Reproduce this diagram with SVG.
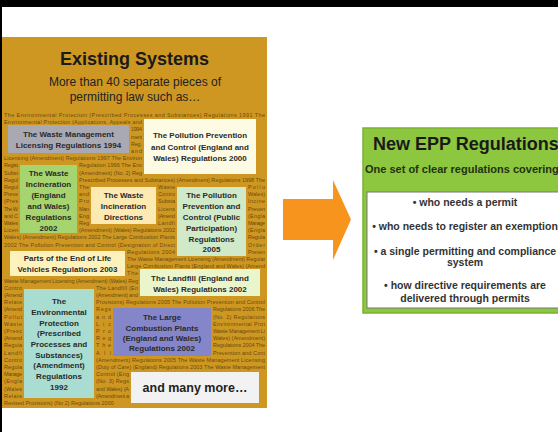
<svg xmlns="http://www.w3.org/2000/svg" width="558" height="432" viewBox="0 0 558 432">
<style>
.f{font-family:"Liberation Sans",Arial,sans-serif}
.fl{font-family:"Liberation Sans",Arial,sans-serif;font-size:5.5px;fill:#4a3005;fill-opacity:0.78}
.bx{font-family:"Liberation Sans",Arial,sans-serif;font-size:8px;font-weight:bold;fill:#2a2a2a;text-anchor:middle}
.bl{font-family:"Liberation Sans",Arial,sans-serif;font-size:10.5px;font-weight:bold;fill:#333;text-anchor:middle}
</style>
<rect x="0" y="0" width="558" height="432" fill="#fff"/>
<rect x="0" y="0" width="558" height="7" fill="#000"/>
<rect x="0" y="0" width="2" height="432" fill="#000"/>

<g id="existing-systems">
<rect x="2" y="37" width="265" height="371" fill="#CD9722"/>
<text class="f" x="134.5" y="65" text-anchor="middle" font-size="18" font-weight="bold" fill="#1a1a1a">Existing Systems</text>
<text class="f" x="135" y="86" text-anchor="middle" font-size="12" fill="#222">More than 40 separate pieces of</text>
<text class="f" x="135" y="101" text-anchor="middle" font-size="12" fill="#222">permitting law such as…</text>
<g id="background-list">
<text class="fl" x="4" y="117" textLength="261">The Environmental Protection (Prescribed Processes and Substances) Regulations 1991 The</text>
<text class="fl" x="4" y="124.2" textLength="138">Environmental Protection (Applications, Appeals and</text>
<text class="fl" x="131" y="131.4" textLength="11">1994</text>
<text class="fl" x="131" y="138.6" textLength="11">ment</text>
<text class="fl" x="131" y="145.8" textLength="11">Reg.</text>
<text class="fl" x="131" y="153" textLength="11">and</text>
<text class="fl" x="4" y="160.2" textLength="138">Licensing (Amendment) Regulations 1997 The Environ</text>
<text class="fl" x="4" y="167.4" textLength="14">Regist</text>
<text class="fl" x="79" y="167.4" textLength="63">Regulation 1996 The Env</text>
<text class="fl" x="4" y="174.6" textLength="14">Subst</text>
<text class="fl" x="79" y="174.6" textLength="63">(Amendment) (No. 2) Reg</text>
<text class="fl" x="4" y="181.8" textLength="14">Regul</text>
<text class="fl" x="79" y="181.8" textLength="186">Prescribed Processes and Substances) (Amendment) Regulations 1998 The</text>
<text class="fl" x="4" y="189" textLength="14">Regul</text>
<text class="fl" x="79" y="189" textLength="10">The</text>
<text class="fl" x="158" y="189" textLength="17">Waste</text>
<text class="fl" x="248" y="189" textLength="17">Pollu</text>
<text class="fl" x="4" y="196.2" textLength="14">Preve</text>
<text class="fl" x="79" y="196.2" textLength="10">and</text>
<text class="fl" x="158" y="196.2" textLength="17">Contro</text>
<text class="fl" x="248" y="196.2" textLength="17">Wales)</text>
<text class="fl" x="4" y="203.4" textLength="14">(Pres</text>
<text class="fl" x="79" y="203.4" textLength="10">Pro</text>
<text class="fl" x="158" y="203.4" textLength="17">Substa</text>
<text class="fl" x="248" y="203.4" textLength="17">Incine</text>
<text class="fl" x="4" y="210.6" textLength="14">The W</text>
<text class="fl" x="79" y="210.6" textLength="10">Man</text>
<text class="fl" x="158" y="210.6" textLength="17">Licens</text>
<text class="fl" x="248" y="210.6" textLength="17">Preven</text>
<text class="fl" x="4" y="217.8" textLength="14">and C</text>
<text class="fl" x="79" y="217.8" textLength="10">Eng</text>
<text class="fl" x="158" y="217.8" textLength="17">(Amend</text>
<text class="fl" x="248" y="217.8" textLength="17">(Engla</text>
<text class="fl" x="4" y="225" textLength="14">Wales</text>
<text class="fl" x="79" y="225" textLength="10">Reg</text>
<text class="fl" x="158" y="225" textLength="17">Landfi</text>
<text class="fl" x="248" y="225" textLength="17">Manage</text>
<text class="fl" x="4" y="232.2" textLength="14">Licen</text>
<text class="fl" x="79" y="232.2" textLength="96">(Amendment) (Wales) Regulations 2002</text>
<text class="fl" x="248" y="232.2" textLength="17">(Engla</text>
<text class="fl" x="4" y="239.4" textLength="171">Wales) (Amendment) Regulations 2002 The Large Combustion Plants</text>
<text class="fl" x="248" y="239.4" textLength="17">Regula</text>
<text class="fl" x="4" y="246.6" textLength="171">2002 The Pollution Prevention and Control (Designation of Direct</text>
<text class="fl" x="248" y="246.6" textLength="17">Order</text>
<text class="fl" x="127" y="253.8" textLength="48">Regulations 2004</text>
<text class="fl" x="248" y="253.8" textLength="17">Preven</text>
<text class="fl" x="127" y="261" textLength="138">The Waste Management Licensing (Amendment) Regulat</text>
<text class="fl" x="127" y="268.2" textLength="138">Large Combustion Plants (England and Wales) (Amend</text>
<text class="fl" x="127" y="275.4" textLength="11">The</text>
<text class="fl" x="4" y="282.6" textLength="134">Waste Management Licensing (Amendment) (Wales) Reg</text>
<text class="fl" x="4" y="289.8" textLength="18">Contro</text>
<text class="fl" x="96" y="289.8" textLength="42">The Landfill (En</text>
<text class="fl" x="4" y="297" textLength="18">(Amend</text>
<text class="fl" x="96" y="297" textLength="42">(Amendment) and</text>
<text class="fl" x="4" y="304.2" textLength="18">Relate</text>
<text class="fl" x="96" y="304.2" textLength="169">Provisions) Regulations 2005 The Pollution Prevention and Control</text>
<text class="fl" x="4" y="311.4" textLength="18">(Amend</text>
<text class="fl" x="96" y="311.4" textLength="15">Regs</text>
<text class="fl" x="213" y="311.4" textLength="52">Regulations 2006 The</text>
<text class="fl" x="4" y="318.6" textLength="18">Pollut</text>
<text class="fl" x="96" y="318.6" textLength="15">and</text>
<text class="fl" x="213" y="318.6" textLength="52">(No. 2) Regulations</text>
<text class="fl" x="4" y="325.8" textLength="18">Waste</text>
<text class="fl" x="96" y="325.8" textLength="15">Lic</text>
<text class="fl" x="213" y="325.8" textLength="52">Environmental Prot</text>
<text class="fl" x="4" y="333" textLength="18">(Presc</text>
<text class="fl" x="96" y="333" textLength="15">Pro</text>
<text class="fl" x="213" y="333" textLength="52">Waste Management Li</text>
<text class="fl" x="4" y="340.2" textLength="18">(Amend</text>
<text class="fl" x="96" y="340.2" textLength="15">Reg</text>
<text class="fl" x="213" y="340.2" textLength="52">Wales) (Amendment)</text>
<text class="fl" x="4" y="347.4" textLength="18">Regula</text>
<text class="fl" x="96" y="347.4" textLength="15">The</text>
<text class="fl" x="213" y="347.4" textLength="52">Regulations 2004 The</text>
<text class="fl" x="4" y="354.6" textLength="18">Landfi</text>
<text class="fl" x="96" y="354.6" textLength="15">All</text>
<text class="fl" x="213" y="354.6" textLength="52">Prevention and Cont</text>
<text class="fl" x="4" y="361.8" textLength="18">Contro</text>
<text class="fl" x="96" y="361.8" textLength="169">(Amendment) Regulations 2005 The Waste Management Licensing</text>
<text class="fl" x="4" y="369" textLength="18">Regula</text>
<text class="fl" x="96" y="369" textLength="169">(Duty of Care) (England) Regulations 2003 The Waste Management</text>
<text class="fl" x="4" y="376.2" textLength="18">Manage</text>
<text class="fl" x="96" y="376.2" textLength="33">Control (Eng</text>
<text class="fl" x="4" y="383.4" textLength="18">(Engla</text>
<text class="fl" x="96" y="383.4" textLength="33">(No. 3) Regs</text>
<text class="fl" x="4" y="390.6" textLength="18">(Wales</text>
<text class="fl" x="96" y="390.6" textLength="33">and Wales) (A</text>
<text class="fl" x="4" y="397.8" textLength="18">Relate</text>
<text class="fl" x="96" y="397.8" textLength="33">(Amendment a</text>
<text class="fl" x="4" y="405">Revised Provisions) (No 2) Regulations 2000</text>
</g>
</g>

<g id="waste-management-licensing">
<rect x="8" y="125" width="121" height="28" fill="#A9A9B3"/>
<text class="bx" x="68.5" y="137">The Waste Management</text>
<text class="bx" x="68.5" y="147.5">Licensing Regulations 1994</text>
</g>

<g id="ppc-regulations-2000">
<rect x="144" y="119" width="112" height="55" fill="#FDFBE3"/>
<text class="bx" x="200" y="138">The Pollution Prevention</text>
<text class="bx" x="200" y="149.5">and Control (England and</text>
<text class="bx" x="200" y="161">Wales) Regulations 2000</text>
</g>

<g id="waste-incineration-2002">
<rect x="20" y="165" width="57" height="68" fill="#A6D46E"/>
<text class="bx" x="48.5" y="176">The Waste</text>
<text class="bx" x="48.5" y="187">Incineration</text>
<text class="bx" x="48.5" y="198">(England</text>
<text class="bx" x="48.5" y="209">and Wales)</text>
<text class="bx" x="48.5" y="220">Regulations</text>
<text class="bx" x="48.5" y="230.5">2002</text>
</g>

<g id="waste-incineration-directions">
<rect x="91" y="187" width="65" height="37" fill="#FDE9B2"/>
<text class="bx" x="123.5" y="198">The Waste</text>
<text class="bx" x="123.5" y="209">Incineration</text>
<text class="bx" x="123.5" y="220">Directions</text>
</g>

<g id="ppc-public-participation-2005">
<rect x="177" y="187" width="69" height="69" fill="#CFE9C9"/>
<text class="bx" x="211.5" y="198">The Pollution</text>
<text class="bx" x="211.5" y="209">Prevention and</text>
<text class="bx" x="211.5" y="220">Control (Public</text>
<text class="bx" x="211.5" y="231">Participation)</text>
<text class="bx" x="211.5" y="241.5">Regulations</text>
<text class="bx" x="211.5" y="252">2005</text>
</g>

<g id="end-of-life-vehicles-2003">
<rect x="10" y="251" width="115" height="25" fill="#FDF2BC"/>
<text class="bx" x="67.5" y="261">Parts of the End of Life</text>
<text class="bx" x="67.5" y="272">Vehicles Regulations 2003</text>
</g>

<g id="landfill-2002">
<rect x="140" y="269" width="120" height="27" fill="#EBF5CB"/>
<text class="bx" x="200" y="281">The Landfill (England and</text>
<text class="bx" x="200" y="291.5">Wales) Regulations 2002</text>
</g>

<g id="environmental-protection-1992">
<rect x="24" y="289" width="70" height="109" fill="#A9DDD2"/>
<text class="bx" x="59" y="304">The</text>
<text class="bx" x="59" y="315">Environmental</text>
<text class="bx" x="59" y="325.5">Protection</text>
<text class="bx" x="59" y="336">(Prescribed</text>
<text class="bx" x="59" y="346.5">Processes and</text>
<text class="bx" x="59" y="357.5">Substances)</text>
<text class="bx" x="59" y="368">(Amendment)</text>
<text class="bx" x="59" y="379">Regulations</text>
<text class="bx" x="59" y="390">1992</text>
</g>

<g id="large-combustion-plants-2002">
<rect x="113" y="308" width="98" height="48" fill="#8585C9"/>
<text class="bx" x="162" y="320">The Large</text>
<text class="bx" x="162" y="330.5">Combustion Plants</text>
<text class="bx" x="162" y="341">(England and Wales)</text>
<text class="bx" x="162" y="351">Regulations 2002</text>
</g>

<g id="many-more">
<rect x="131" y="372" width="128" height="31" fill="#F2F2F2"/>
<text class="f" x="195" y="392" text-anchor="middle" font-size="12.5" font-weight="bold" fill="#222">and many more…</text>
</g>

<g id="connectors">
<polygon points="283,199 333,199 333,180 351,219.5 333,260 333,240 283,240" fill="#F7941D"/>
</g>

<g id="new-epp-regulations">
<rect x="363" y="128" width="210" height="185" fill="#8DC63F" stroke="#7AB232" stroke-width="1.5"/>
<text class="f" x="373" y="149.5" font-size="18" font-weight="bold" fill="#1a1a1a">New EPP Regulations</text>
<text class="f" x="365" y="173" font-size="11" font-weight="bold" fill="#1f3310">One set of clear regulations covering</text>
<rect x="367" y="192" width="196" height="116" fill="#fff" stroke="#777" stroke-width="1"/>
<text class="bl" x="465" y="205.5">• who needs a permit</text>
<text class="bl" x="465" y="229.5">• who needs to register an exemption</text>
<text class="bl" x="465" y="255">• a single permitting and compliance</text>
<text class="bl" x="465" y="266">system</text>
<text class="bl" x="465" y="288.5">• how directive requirements are</text>
<text class="bl" x="465" y="301.5">delivered through permits</text>
</g>
</svg>
